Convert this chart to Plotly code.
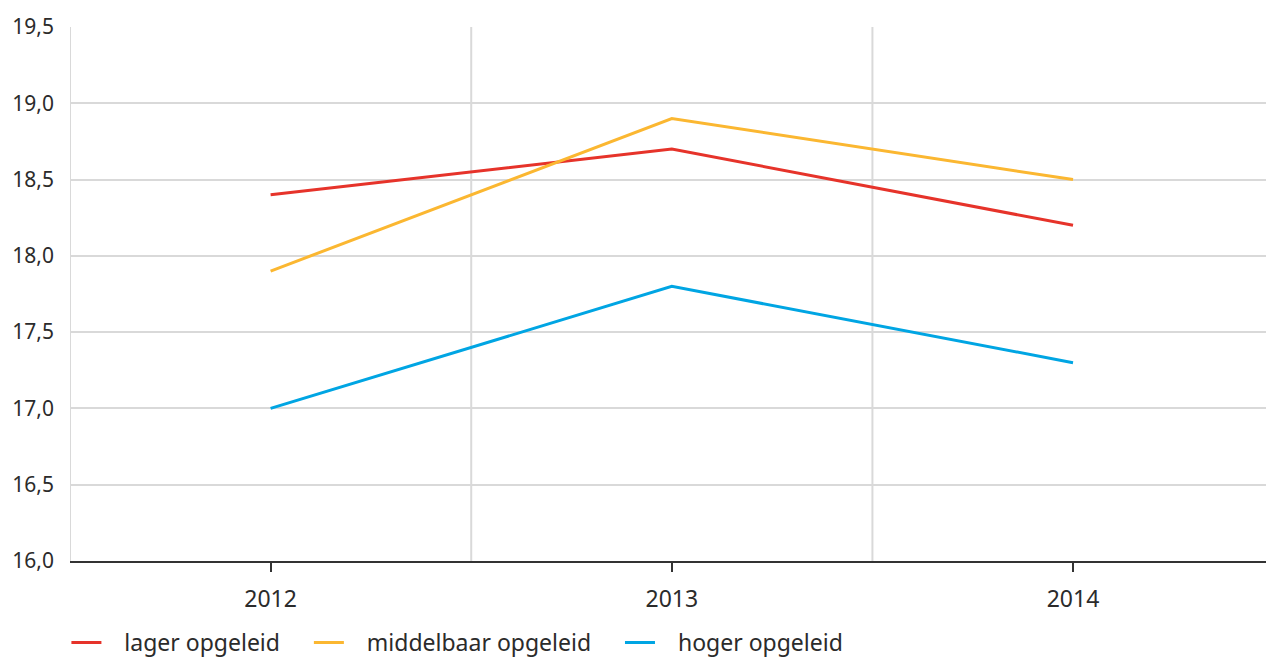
import plotly.graph_objects as go

years = ["2012", "2013", "2014"]
lager = [18.4, 18.7, 18.2]
middelbaar = [17.9, 18.9, 18.5]
hoger = [17.0, 17.8, 17.3]

series = [
    ("lager opgeleid", lager, "#e6332a"),
    ("middelbaar opgeleid", middelbaar, "#fbb731"),
    ("hoger opgeleid", hoger, "#00a5e3"),
]

text_color = "#2b2b2b"
family = "Noto Sans, Open Sans, sans-serif"
NBSP = "\u00a0"

fig = go.Figure()
for name, vals, color in series:
    fig.add_trace(go.Scatter(
        x=years, y=vals, mode="lines",
        # non-breaking spaces widen the legend spacing around each label
        name=NBSP * 3 + name + NBSP * 4,
        line=dict(color=color, width=3),
    ))

# vertical separators between the years
for xv in (-0.5, 0.5, 1.5):
    fig.add_shape(type="line", xref="x", yref="paper", x0=xv, x1=xv, y0=0, y1=1,
                  line=dict(color="#d9d9d9", width=2), layer="below")

fig.update_layout(
    width=1266, height=657,
    margin=dict(l=70, r=0, t=27, b=96, autoexpand=False),
    paper_bgcolor="white", plot_bgcolor="white",
    font=dict(family=family, size=20, color=text_color),
    separators=",.",
    showlegend=True,
    legend=dict(orientation="h", x=-0.003, xanchor="left", y=-0.1929, yanchor="bottom",
                font=dict(family=family, size=23, color=text_color),
                itemwidth=30, traceorder="normal"),
    xaxis=dict(type="category", range=[-0.5, 2.481], showgrid=False,
               showline=True, linecolor="#333333", linewidth=2,
               ticks="outside", ticklen=9, tickwidth=2, tickcolor="#333333",
               tickfont=dict(family=family, size=23, color=text_color),
               ticklabelstandoff=7, zeroline=False),
    yaxis=dict(range=[16.0, 19.5], tickvals=[16.0, 16.5, 17.0, 17.5, 18.0, 18.5, 19.0, 19.5],
               tickformat=".1f", showgrid=True, gridcolor="#d9d9d9", gridwidth=2,
               tickfont=dict(family=family, size=21, color=text_color),
               showline=False, zeroline=False, ticks="", ticklabelstandoff=15),
)

fig.write_html("out.html")
